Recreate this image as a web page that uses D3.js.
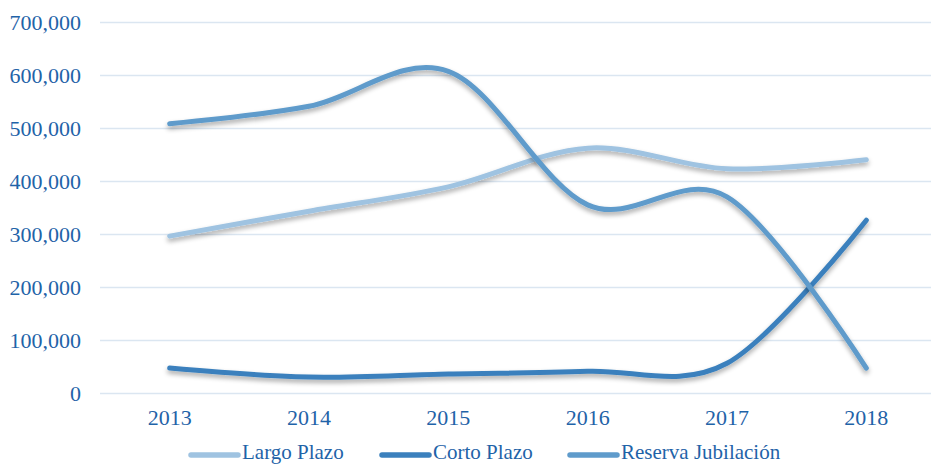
<!DOCTYPE html>
<html>
<head>
<meta charset="utf-8">
<script src="https://cdn.jsdelivr.net/npm/d3@7"></script>
<style>
  html, body { margin: 0; padding: 0; background: #fff; }
  #chart { width: 931px; height: 465px; }
</style>
</head>
<body>
<div id="chart"></div>
<script>
const years = ["2013", "2014", "2015", "2016", "2017", "2018"];
const largoPlazo = [296000, 343000, 389000, 462000, 423000, 440000];
const cortoPlazo = [47000, 30000, 36000, 41000, 56000, 326000];
const reservaJubilacion = [508000, 541000, 607000, 355000, 370000, 47000];
const yTicks = [0, 100000, 200000, 300000, 400000, 500000, 600000, 700000];

const series = [
  { name: "Largo Plazo", values: largoPlazo, color: "#9fc3e1" },
  { name: "Corto Plazo", values: cortoPlazo, color: "#3b80bd" },
  { name: "Reserva Jubilación", values: reservaJubilacion, color: "#5f9bcb" }
];

function draw() {
  const w = 931, h = 465;
  const margin = { left: 100, right: -5, top: 22, bottom: 72 };

  const svg = d3.select("#chart")
    .append("svg")
    .attr("width", w)
    .attr("height", h)
    .style("font-family", "'Liberation Serif', 'Times New Roman', serif");

  // soft shadow under the lines
  const defs = svg.append("defs");
  const f = defs.append("filter")
    .attr("id", "shadow")
    .attr("x", "-10%").attr("y", "-30%")
    .attr("width", "120%").attr("height", "160%");
  f.append("feGaussianBlur").attr("in", "SourceAlpha").attr("stdDeviation", 2.5).attr("result", "blur");
  f.append("feOffset").attr("in", "blur").attr("dx", 0).attr("dy", 3).attr("result", "off");
  f.append("feComponentTransfer").attr("in", "off").attr("result", "soft")
    .append("feFuncA").attr("type", "linear").attr("slope", 0.35);
  const merge = f.append("feMerge");
  merge.append("feMergeNode").attr("in", "soft");
  merge.append("feMergeNode").attr("in", "SourceGraphic");

  const x = d3.scalePoint()
    .domain(years)
    .range([margin.left, w - margin.right])
    .padding(0.5);

  const y = d3.scaleLinear()
    .domain([0, 700000])
    .range([h - margin.bottom, margin.top]);

  // gridlines
  svg.append("g")
    .selectAll("line")
    .data(yTicks)
    .join("line")
    .attr("x1", margin.left)
    .attr("x2", w)
    .attr("y1", d => y(d) + 0.5)
    .attr("y2", d => y(d) + 0.5)
    .attr("stroke", "#dbe6f1")
    .attr("stroke-width", 1.3);

  // y labels
  const fmt = d3.format(",");
  svg.append("g")
    .selectAll("text")
    .data(yTicks)
    .join("text")
    .attr("x", 81)
    .attr("y", d => y(d))
    .attr("dy", "0.35em")
    .attr("text-anchor", "end")
    .attr("fill", "#1f63a8")
    .style("font-size", "22px")
    .text(d => fmt(d));

  // x labels
  svg.append("g")
    .selectAll("text")
    .data(years)
    .join("text")
    .attr("x", d => x(d))
    .attr("y", 425)
    .attr("text-anchor", "middle")
    .attr("fill", "#1f63a8")
    .style("font-size", "22px")
    .text(d => d);

  const line = d3.line()
    .x((d, i) => x(years[i]))
    .y(d => y(d))
    .curve(d3.curveCardinal.tension(0));

  svg.append("g")
    .selectAll("path")
    .data(series)
    .join("path")
    .attr("d", d => line(d.values))
    .attr("fill", "none")
    .attr("stroke", d => d.color)
    .attr("stroke-width", 5)
    .attr("stroke-linecap", "round")
    .attr("filter", "url(#shadow)");

  // legend (kept just inside the bottom edge)
  const legendX = [189, 380, 568];
  const legend = svg.append("g");
  legend.selectAll("g")
    .data(series)
    .join("g")
    .attr("transform", (d, i) => `translate(${legendX[i]}, 455)`)
    .each(function(d) {
      const row = d3.select(this);
      row.append("line")
        .attr("x1", 2).attr("x2", 49)
        .attr("y1", 0).attr("y2", 0)
        .attr("stroke", d.color)
        .attr("stroke-width", 5.5)
        .attr("stroke-linecap", "round");
      row.append("text")
        .attr("x", 53)
        .attr("y", 4)
        .attr("fill", "#1f63a8")
        .style("font-size", "21px")
        .text(d.name);
    });
}

draw();
</script>
</body>
</html>
